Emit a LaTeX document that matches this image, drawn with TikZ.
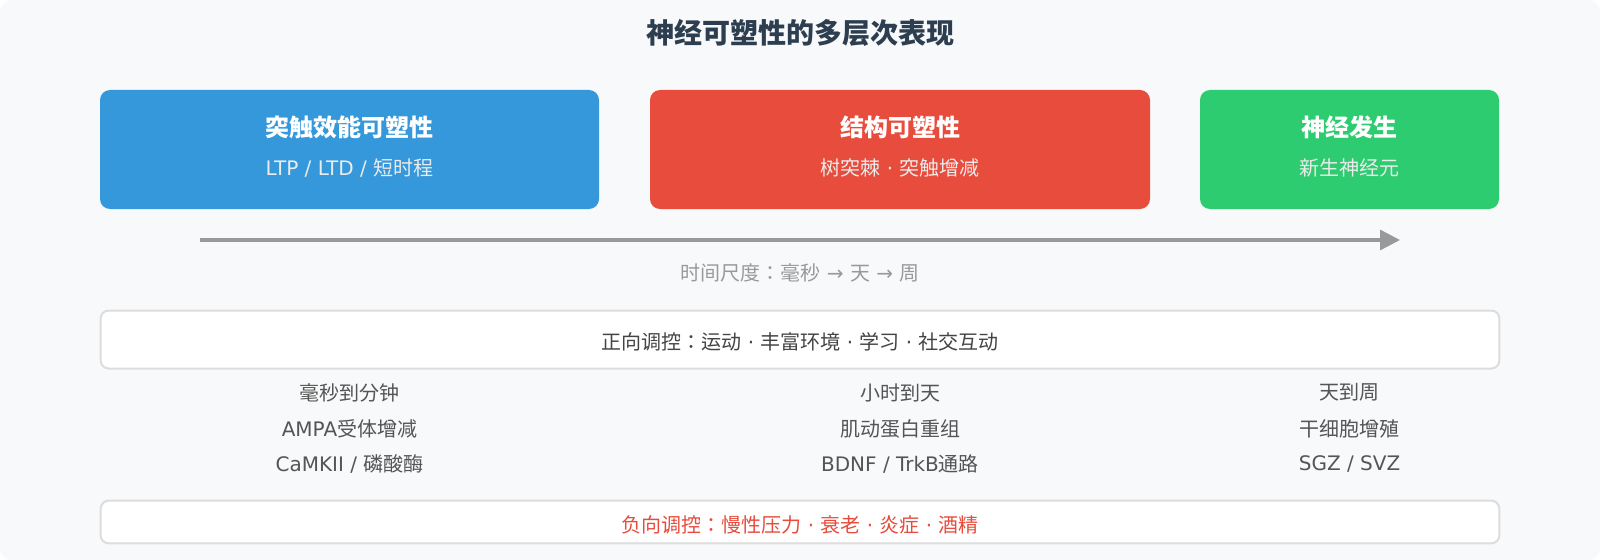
\documentclass[tikz,border=0pt]{standalone}
\usepackage{fontspec}
\setmainfont{DejaVu Sans}
\newfontfamily\cjkfont{Noto Sans CJK JP}
\newcommand{\zh}[1]{{\cjkfont #1}}
\usetikzlibrary{arrows.meta}
\definecolor{synblue}{HTML}{3498DB}
\definecolor{strred}{HTML}{E74C3C}
\definecolor{neugreen}{HTML}{2ECC71}
\definecolor{titlegray}{HTML}{2C3E50}
\definecolor{bggray}{HTML}{F8F9FA}
\definecolor{linegray}{HTML}{DDDDDD}
\definecolor{axisgray}{HTML}{999999}
\definecolor{textgray}{HTML}{555555}
\definecolor{darkgray}{HTML}{444444}

\begin{document}
\begin{tikzpicture}[x=0.75pt,y=-0.75pt,
		stage/.style={rounded corners=7.5pt, minimum height=89.25pt, inner sep=0pt},
		band/.style={draw=linegray, line width=1.5pt, fill=white, rounded corners=6pt, minimum width=1049pt, inner sep=0pt},
		head/.style={inner sep=0pt, text=white, font=\fontsize{18pt}{21pt}\selectfont\bfseries},
		sub/.style={inner sep=0pt, text=white!92!black, font=\fontsize{15pt}{18pt}\selectfont},
		lbl/.style={inner sep=0pt, text=textgray, font=\fontsize{15pt}{18pt}\selectfont}]

			\useasboundingbox (0,0) rectangle (1600,560);

			\fill[bggray, rounded corners=9pt] (0,0) rectangle (1600,560);

			\node[inner sep=0pt, text=titlegray, font=\fontsize{21pt}{25pt}\selectfont\bfseries] (title) at (800,32.5) {\zh{神经可塑性的多层次表现}};

			%three levels
			\node[stage, fill=synblue, minimum width=374.25pt] (syn) at (349.5,149.5) {};

			\node[head] (synhead) at (349.5,127) {\zh{突触效能可塑性}};

			\node[sub] (synsub) at (349.5,168) {LTP / LTD / \zh{短时程}};

			\node[stage, fill=strred, minimum width=375pt] (str) at (900,149.5) {};

			\node[head] (strhead) at (900,127) {\zh{结构可塑性}};

			\node[sub] (strsub) at (900,168) {\zh{树突棘} · \zh{突触增减}};

			\node[stage, fill=neugreen, minimum width=224.25pt] (neu) at (1349.5,149.5) {};

			\node[head] (neuhead) at (1349.5,127) {\zh{神经发生}};

			\node[sub] (neusub) at (1349.5,168) {\zh{新生神经元}};

			%time axis
			\coordinate (tstart) at (200,240);

			\coordinate (tend) at (1400,240);

			\draw[axisgray, line width=2.5pt, -{Triangle[length=15pt,width=15pt]}] (tstart) -- (tend);

			\node[lbl, text=axisgray] (scale) at (800,273) {\zh{时间尺度：毫秒} → \zh{天} → \zh{周}};

			%regulation
			\node[band, minimum height=43.5pt] (pos) at (800,339.5) {};

			\node[lbl, text=darkgray] (postext) at (800,342) {\zh{正向调控：运动} · \zh{丰富环境} · \zh{学习} · \zh{社交互动}};

			\node[lbl] (syntime) at (349.5,392.5) {\zh{毫秒到分钟}};

			\node[lbl] (synmech) at (349.5,429) {AMPA\zh{受体增减}};

			\node[lbl] (synmol) at (349.5,464.5) {CaMKII / \zh{磷酸酶}};

			\node[lbl] (strtime) at (900,392.5) {\zh{小时到天}};

			\node[lbl] (strmech) at (900,429) {\zh{肌动蛋白重组}};

			\node[lbl] (strmol) at (900,464.5) {BDNF / TrkB\zh{通路}};

			\node[lbl] (neutime) at (1349.5,392.5) {\zh{天到周}};

			\node[lbl] (neumech) at (1349.5,429) {\zh{干细胞增殖}};

			\node[lbl] (neumol) at (1349.5,464.5) {SGZ / SVZ};

			\node[band, minimum height=32pt] (neg) at (800,522) {};

			\node[lbl, text=strred] (negtext) at (800,525) {\zh{负向调控：慢性压力} · \zh{衰老} · \zh{炎症} · \zh{酒精}};
\end{tikzpicture}
\end{document}
